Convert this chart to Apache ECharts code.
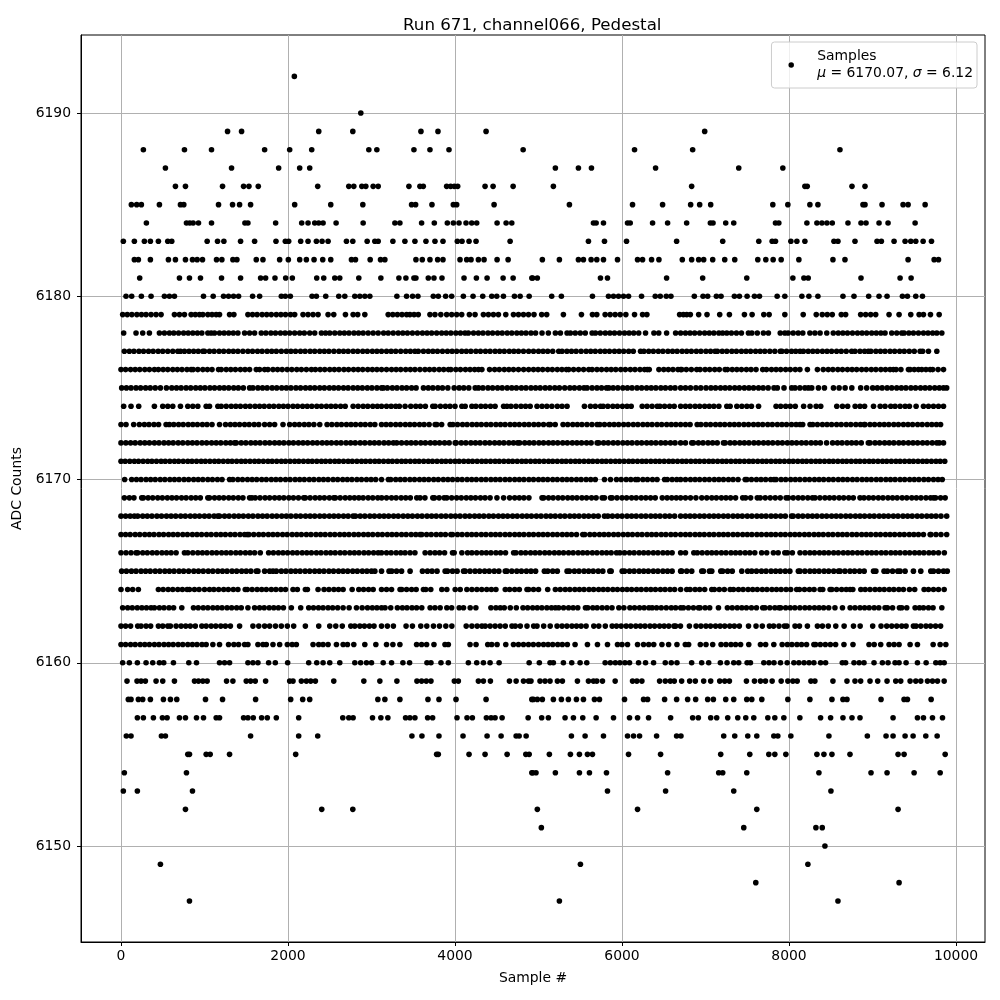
<!DOCTYPE html>
<html><head><meta charset="utf-8"><style>html,body{margin:0;padding:0;background:#fff}#c{width:1000px;height:1000px}</style>
<script src="https://cdn.jsdelivr.net/npm/echarts@6/dist/echarts.min.js"></script></head><body><div id="c"></div><script>
const chartTitle="Run 671, channel066, Pedestal";
const xName="Sample #";
const yName="ADC Counts";
const xTicks=[0,2000,4000,6000,8000,10000];
const yTicks=[6150,6160,6170,6180,6190];
const row6192=[2076];
const row6190=[2872];
const row6189=[1276,1444,2368,2776,3592,3796,4372,6990];
const row6188=[268,760,1084,1720,2020,2284,2968,3064,3508,3700,3928,4816,6150,6846,8610];
const row6187=[532,1324,1888,2140,2260,5202,5478,5634,6402,7398,7926];
const row6186=[652,772,1216,1468,1532,1644,2356,2728,2788,2884,2932,3020,3080,3448,3580,3620,3900,3948,3992,4032,4360,4456,4696,5178,6834,8190,8218,8754,8910];
const row6185=[124,188,244,460,712,752,1168,1336,1420,1552,2080,2512,2896,3480,3528,3724,3980,4020,4468,5370,6126,6486,6822,6930,7062,7806,7986,8250,8346,8886,8910,9114,9366,9426,9630];
const row6184=[304,784,824,864,928,1084,1484,1520,1852,2164,2240,2320,2368,2420,2576,2900,3280,3340,3600,3752,3908,3980,4048,4132,4200,4260,4504,4612,4680,5658,5690,5778,6066,6098,6366,6546,6774,7058,7090,7242,7338,7838,7878,8214,8334,8394,8454,8518,8706,8862,8922,9078,9186,9510];
const row6183=[28,160,280,352,448,560,608,1032,1156,1232,1432,1600,1856,1968,2008,2152,2240,2340,2408,2480,2700,2776,2948,3040,3080,3256,3400,3520,3652,3760,3856,4028,4084,4168,4252,4660,5598,5790,6054,6654,7206,7638,7798,7838,8022,8094,8190,8538,8586,8790,9054,9106,9258,9390,9458,9518,9606,9706];
const row6182=[160,208,352,568,652,772,856,912,976,1144,1208,1340,1388,1620,1700,1900,2004,2140,2220,2312,2416,2512,2760,2808,2984,3108,3160,3532,3608,3700,3792,3856,4060,4140,4192,4280,4348,4504,4636,5046,5250,5478,5538,5630,5698,5778,5946,6186,6246,6354,6442,6722,6834,6918,6978,7086,7230,7350,7626,7722,7810,7906,8118,8526,8670,9426,9738,9790];
const row6181=[224,700,820,952,1204,1432,1672,1732,1844,1972,2052,2344,2428,2560,2620,2848,3112,3328,3412,3508,3532,3680,3748,3844,4108,4256,4384,4576,4696,4920,4930,4986,5742,5826,6534,6966,7494,8046,8178,8230,8862,9330,9462];
const row6180=[60,128,244,360,520,580,640,988,1104,1228,1288,1348,1408,1576,1660,1920,1968,2028,2288,2340,2452,2608,2680,2800,2860,2920,2980,3304,3420,3492,3556,3740,3800,3888,3960,4100,4216,4332,4440,4500,4580,4712,4780,4888,5158,5274,5646,5838,5898,5958,6018,6078,6234,6398,6458,6530,6586,6866,6970,7026,7130,7186,7346,7406,7498,7586,7646,7858,7950,8154,8238,8346,8646,8778,8954,9078,9174,9358,9418,9518,9598];
const row6179=[20,75,130,190,245,300,360,420,480,640,700,760,840,890,940,980,1040,1090,1140,1180,1300,1352,1520,1575,1630,1690,1745,1800,1860,1915,1970,2030,2080,2180,2240,2300,2360,2480,2548,2688,2780,2835,2920,3200,3255,3310,3365,3420,3460,3510,3560,3700,3760,3830,3900,3960,4020,4080,4172,4240,4340,4400,4460,4520,4608,4700,4760,4820,4880,4946,5038,5098,5298,5514,5646,5698,5798,5858,5918,5978,6046,6150,6246,6298,6690,6735,6775,6818,6918,7018,7170,7286,7466,7558,7698,7762,7950,8170,8326,8398,8458,8518,8626,8678,8858,8918,8978,9038,9198,9318,9458,9558,9610,9694,9798];
const row6178=[32,180,260,340,460,520,580,632,690,750,805,860,915,968,1040,1080,1120,1180,1235,1290,1345,1400,1480,1540,1600,1680,1735,1795,1850,1910,1965,2020,2080,2140,2195,2260,2320,2400,2450,2500,2560,2620,2675,2730,2790,2845,2900,2960,3020,3080,3145,3200,3260,3320,3375,3430,3490,3550,3610,3665,3720,3780,3840,3895,3950,4010,4065,4120,4160,4222,4280,4335,4395,4450,4510,4565,4625,4680,4740,4795,4850,4910,4965,5042,5118,5202,5262,5342,5382,5440,5500,5560,5642,5682,5740,5800,5855,5910,5970,6030,6085,6140,6200,6282,6382,6440,6534,6642,6702,6760,6815,6870,6930,6990,7045,7100,7160,7205,7255,7310,7370,7430,7514,7555,7620,7693,7753,7895,7950,7990,8050,8110,8165,8250,8310,8372,8452,8530,8590,8645,8700,8760,8820,8875,8930,8990,9045,9100,9150,9230,9290,9350,9378,9435,9490,9550,9610,9665,9720,9770,9830];
const row6177=[40,100,155,215,270,330,385,445,500,560,620,680,712,760,815,870,925,980,1000,1060,1115,1175,1230,1290,1345,1400,1460,1520,1575,1635,1690,1750,1805,1860,1920,1980,2035,2090,2150,2205,2265,2320,2380,2435,2490,2550,2610,2665,2720,2780,2835,2895,2950,3010,3065,3120,3180,3235,3290,3350,3410,3465,3520,3560,3622,3680,3735,3790,3850,3910,3965,4020,4080,4135,4190,4250,4305,4365,4420,4480,4535,4590,4650,4705,4760,4820,4882,4940,5000,5055,5110,5170,5242,5282,5340,5395,5450,5510,5570,5625,5680,5740,5795,5850,5910,5965,6020,6080,6135,6222,6262,6320,6375,6435,6490,6550,6605,6660,6720,6775,6830,6890,6945,7005,7060,7115,7142,7200,7255,7315,7370,7430,7485,7540,7600,7655,7710,7770,7830,7895,7915,7970,8030,8080,8132,8172,8230,8285,8340,8400,8455,8510,8570,8625,8685,8750,8790,8850,8905,8950,8980,9040,9095,9150,9210,9265,9325,9380,9440,9500,9570,9600,9670,9770];
const row6176=[0,55,115,170,225,285,340,400,448,505,560,620,675,730,790,840,864,920,980,1035,1090,1168,1200,1260,1315,1370,1430,1485,1540,1620,1660,1720,1760,1820,1875,1930,1990,2045,2105,2160,2220,2280,2328,2385,2440,2500,2555,2610,2670,2725,2785,2840,2895,2955,3010,3065,3120,3180,3240,3295,3350,3410,3465,3520,3580,3640,3695,3750,3810,3865,3922,3950,4010,4065,4125,4180,4235,4282,4322,4414,4475,4530,4590,4645,4700,4760,4822,4882,4940,4995,5050,5110,5165,5225,5280,5334,5362,5420,5480,5540,5602,5642,5700,5755,5815,5870,5925,5985,6040,6100,6155,6215,6270,6302,6326,6442,6500,6555,6610,6670,6702,6715,6770,6830,6895,6935,6995,7050,7110,7165,7235,7262,7320,7375,7430,7490,7545,7605,7685,7730,7790,7845,7900,7960,8015,8075,8130,8220,8340,8410,8470,8525,8585,8640,8700,8755,8810,8870,8925,8985,9040,9100,9155,9210,9250,9282,9340,9430,9450,9500,9550,9590,9640,9690,9720,9785,9850];
const row6175=[8,65,120,180,235,295,350,410,472,544,608,665,720,780,835,895,950,1005,1065,1120,1180,1235,1290,1350,1405,1465,1540,1580,1640,1695,1750,1810,1865,1925,1980,2035,2095,2150,2210,2265,2320,2380,2435,2495,2550,2605,2665,2720,2780,2835,2890,2950,3005,3065,3120,3142,3190,3250,3305,3365,3420,3480,3534,3622,3680,3735,3795,3850,3914,3990,4050,4105,4165,4242,4282,4334,4395,4450,4510,4565,4625,4680,4735,4795,4850,4910,4965,5020,5080,5135,5195,5250,5314,5375,5430,5490,5545,5582,5642,5700,5755,5814,5842,5894,5950,6010,6065,6120,6180,6235,6295,6350,6405,6465,6520,6580,6635,6702,6760,6820,6885,6943,7006,7065,7120,7180,7235,7290,7350,7405,7465,7520,7575,7635,7690,7750,7820,7860,7940,8032,8072,8130,8190,8232,8272,8352,8424,8532,8600,8672,8752,8858,8930,9002,9058,9115,9175,9230,9290,9345,9400,9460,9515,9575,9630,9685,9745,9800,9850,9888];
const row6174=[32,120,212,400,500,560,620,712,800,860,920,1020,1060,1160,1200,1260,1320,1375,1430,1490,1545,1605,1660,1715,1775,1830,1890,1945,2000,2060,2115,2175,2230,2285,2345,2400,2460,2515,2570,2630,2685,2780,2840,2900,2955,3015,3070,3120,3180,3235,3290,3334,3402,3470,3530,3585,3645,3734,3762,3825,3885,3940,4000,4082,4122,4202,4250,4310,4365,4425,4480,4582,4622,4670,4730,4790,4845,4900,4982,5042,5100,5160,5225,5282,5342,5550,5622,5680,5742,5774,5830,5890,5945,6005,6060,6110,6242,6300,6360,6422,6454,6510,6570,6625,6702,6760,6815,6875,6930,6990,7045,7100,7160,7255,7295,7375,7435,7495,7550,7635,7845,7900,7960,8015,8075,8175,8252,8325,8380,8572,8640,8702,8792,8850,8905,9012,9092,9150,9218,9270,9330,9390,9442,9522,9610,9670,9730,9790,9850];
const row6173=[0,60,152,220,280,335,395,450,540,580,632,690,745,805,860,915,975,1030,1090,1180,1252,1310,1365,1420,1480,1535,1595,1650,1720,1780,1840,1940,2020,2080,2135,2195,2250,2310,2380,2468,2525,2585,2640,2700,2755,2810,2870,2925,2985,3040,3120,3175,3230,3290,3345,3405,3460,3515,3575,3630,3690,3762,3782,3840,3942,3974,4030,4090,4145,4205,4260,4315,4375,4430,4490,4545,4600,4660,4715,4770,4830,4885,4945,5000,5060,5122,5142,5200,5294,5350,5410,5465,5520,5580,5640,5702,5734,5790,5850,5905,5960,6020,6075,6135,6190,6250,6305,6360,6420,6475,6535,6590,6645,6702,6760,6815,6900,6945,7005,7060,7120,7175,7230,7290,7345,7400,7460,7515,7575,7630,7685,7745,7800,7860,7915,7970,8030,8085,8132,8164,8252,8284,8340,8400,8455,8510,8570,8625,8685,8740,8800,8855,8900,8910,8970,9025,9085,9140,9195,9255,9310,9370,9425,9480,9540,9595,9655,9710,9765,9815];
const row6172=[0,58,115,170,230,285,340,400,455,515,570,625,685,740,800,855,910,970,1025,1085,1140,1195,1255,1310,1360,1380,1440,1495,1555,1610,1665,1725,1780,1840,1895,1950,2010,2065,2125,2180,2235,2295,2350,2410,2465,2520,2580,2635,2695,2750,2805,2865,2920,2980,3035,3090,3150,3205,3262,3302,3360,3420,3475,3530,3590,3645,3705,3760,3815,3875,3930,4002,4014,4075,4130,4190,4245,4300,4360,4415,4475,4530,4585,4645,4700,4750,4774,4835,4890,4945,5005,5060,5120,5175,5230,5290,5345,5405,5460,5515,5575,5630,5702,5722,5780,5835,5895,5950,6010,6065,6120,6180,6235,6295,6350,6405,6465,6520,6580,6635,6702,6760,6835,6855,6915,6970,7030,7085,7140,7215,7235,7295,7350,7410,7465,7520,7580,7635,7695,7750,7805,7865,7920,7980,8035,8090,8150,8205,8265,8320,8375,8450,8522,8580,8635,8695,8750,8805,8865,8950,8970,9030,9085,9145,9200,9255,9315,9370,9430,9485,9540,9600,9655,9715,9770,9800,9850];
const row6171=[0,50,105,160,210,265,320,370,425,480,530,585,640,690,745,800,850,905,960,1010,1065,1120,1170,1225,1280,1330,1385,1440,1490,1545,1600,1650,1705,1760,1810,1865,1920,1970,2025,2080,2130,2185,2240,2290,2345,2400,2450,2505,2560,2610,2665,2720,2770,2825,2880,2930,2985,3040,3090,3145,3200,3250,3305,3360,3410,3465,3520,3570,3625,3680,3730,3785,3840,3890,3945,4000,4050,4105,4160,4210,4265,4320,4370,4425,4480,4530,4585,4640,4690,4745,4800,4850,4905,4960,5010,5065,5120,5170,5225,5280,5330,5385,5440,5490,5545,5600,5650,5705,5760,5810,5865,5920,5970,6025,6080,6130,6185,6240,6290,6345,6400,6450,6505,6560,6610,6665,6720,6770,6825,6880,6930,6985,7040,7090,7145,7200,7250,7305,7360,7410,7465,7520,7570,7625,7680,7730,7785,7840,7890,7945,8000,8050,8105,8160,8210,8265,8320,8370,8425,8480,8530,8585,8640,8690,8745,8800,8850,8905,8960,9010,9065,9120,9170,9225,9280,9330,9385,9440,9490,9545,9600,9650,9705,9760,9810,9865];
const row6170=[44,128,185,240,300,355,410,470,525,585,640,695,755,810,870,925,980,1040,1095,1155,1210,1300,1340,1400,1455,1515,1570,1625,1685,1740,1800,1855,1910,1970,2025,2085,2140,2195,2255,2310,2370,2425,2480,2540,2595,2655,2710,2765,2825,2880,2940,2995,3050,3120,3202,3230,3290,3345,3400,3460,3515,3575,3630,3685,3745,3800,3860,3915,3970,4030,4085,4145,4200,4255,4315,4370,4430,4485,4540,4600,4655,4715,4770,4825,4885,4940,5000,5055,5110,5170,5225,5285,5340,5395,5455,5510,5570,5625,5680,5790,5862,5934,5990,6050,6105,6162,6190,6250,6305,6365,6420,6510,6542,6600,6655,6702,6760,6820,6875,6930,6990,7045,7105,7160,7215,7275,7330,7390,7475,7495,7550,7610,7665,7720,7780,7820,7845,7905,7960,8020,8075,8130,8190,8245,8305,8360,8415,8475,8530,8590,8645,8700,8760,8815,8875,8930,8985,9045,9100,9160,9215,9270,9330,9385,9445,9500,9555,9615,9670,9730,9785,9835];
const row6169=[40,100,155,248,268,325,380,440,495,555,610,665,725,780,840,895,950,1040,1060,1120,1175,1230,1290,1345,1405,1460,1540,1568,1608,1665,1725,1780,1840,1895,1950,2010,2065,2125,2188,2208,2265,2325,2380,2435,2495,2548,2568,2625,2685,2740,2795,2848,2900,2960,3015,3075,3122,3180,3240,3295,3355,3410,3465,3542,3582,3640,3734,3754,3810,3870,3902,3960,4020,4075,4135,4190,4245,4305,4360,4420,4502,4582,4654,4715,4770,4825,4885,5042,5062,5120,5175,5235,5290,5350,5405,5460,5520,5575,5635,5690,5762,5790,5862,5882,5940,6000,6055,6115,6170,6230,6285,6342,6398,6482,6540,6595,6650,6702,6760,6820,6885,6955,7015,7075,7130,7190,7245,7300,7360,7445,7480,7540,7620,7655,7715,7775,7835,7895,7965,7992,8050,8110,8165,8225,8280,8312,8370,8430,8485,8540,8600,8655,8715,8770,8850,8898,8955,9010,9070,9125,9185,9240,9295,9355,9410,9470,9525,9580,9640,9695,9730,9755,9815,9870];
const row6168=[0,55,110,160,200,260,315,370,430,485,545,600,655,715,770,830,885,940,1000,1055,1115,1160,1180,1240,1295,1355,1410,1465,1525,1580,1640,1695,1750,1810,1865,1925,1980,2035,2095,2150,2210,2265,2320,2380,2435,2495,2550,2605,2665,2720,2780,2808,2865,2920,2980,3035,3095,3150,3205,3265,3320,3380,3435,3490,3550,3605,3665,3720,3775,3835,3890,3950,4005,4060,4120,4175,4235,4290,4345,4405,4460,4520,4575,4630,4690,4745,4805,4860,4915,4975,5030,5090,5145,5200,5260,5315,5375,5430,5485,5545,5600,5660,5715,5790,5830,5885,5945,6000,6060,6115,6170,6230,6285,6345,6400,6455,6515,6570,6630,6702,6760,6815,6870,6930,6985,7045,7100,7155,7215,7270,7330,7385,7440,7500,7555,7615,7670,7725,7785,7840,7900,7955,8030,8050,8110,8165,8225,8280,8335,8395,8450,8510,8565,8620,8680,8735,8795,8850,8905,8965,9020,9080,9135,9190,9250,9305,9365,9420,9475,9535,9590,9650,9705,9760,9820,9888];
const row6167=[0,55,110,170,225,285,340,395,455,510,570,625,680,740,795,855,910,965,1025,1080,1140,1195,1250,1310,1365,1425,1480,1512,1532,1590,1650,1705,1765,1820,1875,1935,1990,2050,2105,2160,2220,2275,2335,2390,2445,2505,2560,2620,2675,2730,2790,2845,2905,2960,3015,3075,3130,3190,3245,3300,3360,3415,3475,3530,3582,3602,3660,3715,3775,3830,3885,3950,3970,4030,4085,4145,4200,4255,4315,4370,4430,4485,4540,4600,4655,4715,4770,4825,4885,4940,5000,5055,5110,5170,5225,5285,5340,5395,5455,5530,5554,5615,5670,5730,5785,5840,5900,5955,6015,6070,6125,6185,6240,6300,6355,6410,6470,6525,6585,6640,6702,6760,6815,6875,6930,6985,7045,7100,7160,7215,7270,7330,7385,7445,7500,7555,7615,7670,7730,7785,7840,7900,7955,8015,8070,8125,8185,8240,8300,8355,8410,8470,8525,8585,8640,8695,8755,8810,8870,8925,8980,9040,9095,9155,9210,9265,9325,9380,9440,9495,9550,9610,9690,9700,9760,9820,9888];
const row6166=[0,60,120,180,200,260,315,375,430,490,545,600,660,760,800,860,920,975,1030,1090,1145,1205,1260,1315,1375,1430,1490,1545,1600,1668,1768,1825,1885,1940,1995,2055,2110,2170,2225,2280,2340,2395,2455,2510,2565,2625,2680,2740,2795,2850,2910,2965,3025,3080,3120,3180,3235,3295,3350,3402,3462,3520,3642,3702,3760,3815,3875,3970,3990,4082,4150,4202,4260,4320,4375,4430,4490,4545,4605,4702,4730,4790,4845,4905,4960,5015,5075,5130,5190,5245,5300,5360,5415,5475,5530,5585,5645,5700,5760,5815,5870,5934,5974,6030,6090,6145,6205,6260,6315,6375,6430,6490,6545,6600,6702,6760,6860,6902,6960,7020,7075,7130,7190,7245,7305,7360,7415,7475,7530,7590,7672,7733,7813,7870,7950,7980,8040,8132,8192,8250,8305,8365,8420,8475,8535,8590,8650,8705,8760,8820,8875,8935,8990,9045,9105,9160,9220,9275,9330,9390,9445,9505,9560,9615,9675,9730,9790,9860];
const row6165=[8,65,125,180,240,295,350,410,465,525,580,635,695,750,810,872,928,985,1045,1100,1160,1215,1270,1330,1385,1445,1500,1555,1620,1640,1720,1780,1820,1860,1920,1975,2035,2090,2145,2205,2260,2320,2375,2430,2490,2545,2605,2660,2715,2775,2830,2890,2945,3000,3040,3120,3210,3242,3300,3360,3462,3610,3670,3725,3785,3882,3910,3970,4025,4102,4122,4180,4240,4295,4355,4410,4470,4525,4602,4622,4680,4740,4795,4855,4910,4965,5070,5110,5170,5225,5342,5370,5430,5485,5545,5600,5655,5715,5770,5854,5870,6002,6030,6090,6145,6205,6260,6315,6375,6430,6490,6545,6600,6702,6715,6775,6835,6955,6975,7047,7075,7183,7205,7265,7320,7434,7505,7553,7610,7670,7725,7785,7840,7895,7955,8010,8112,8132,8190,8250,8305,8360,8420,8475,8535,8592,8612,8670,8730,8785,8845,8900,9012,9040,9138,9178,9240,9302,9330,9390,9490,9578,9698,9730,9790,9850,9895];
const row6164=[0,80,140,208,448,505,565,620,680,735,792,820,880,935,1000,1060,1112,1170,1230,1285,1345,1400,1488,1512,1570,1630,1685,1740,1800,1855,1915,1970,2060,2112,2208,2232,2360,2432,2490,2550,2605,2660,2768,2848,2905,2965,3020,3120,3180,3240,3342,3362,3420,3480,3535,3622,3650,3710,3842,3902,4002,4062,4142,4202,4262,4320,4380,4435,4490,4602,4654,4715,4770,4862,4882,4940,5000,5110,5202,5260,5320,5375,5435,5490,5545,5605,5660,5720,5775,5830,5890,5945,6005,6060,6115,6175,6230,6290,6345,6400,6460,6515,6575,6630,6702,6775,6815,6875,6930,6990,7075,7105,7165,7225,7295,7335,7395,7450,7510,7565,7620,7680,7735,7795,7850,7905,7965,8020,8092,8125,8185,8245,8300,8372,8404,8492,8512,8570,8630,8685,8732,8764,8860,8912,8970,9030,9085,9140,9200,9255,9315,9370,9442,9505,9618,9670,9730,9790,9858];
const row6163=[20,80,135,195,250,305,360,400,460,515,575,630,728,868,925,985,1040,1100,1155,1210,1270,1325,1385,1440,1520,1600,1660,1715,1775,1830,1885,1945,2040,2152,2248,2305,2365,2420,2480,2535,2595,2660,2732,2820,2888,2952,3010,3065,3120,3162,3230,3310,3370,3425,3485,3540,3602,3702,3760,3822,3902,3960,4050,4102,4182,4250,4430,4490,4542,4590,4662,4734,4814,4870,4930,4985,5040,5100,5155,5202,5242,5300,5360,5415,5470,5562,5590,5650,5702,5762,5820,5880,5962,6022,6094,6150,6210,6265,6322,6362,6414,6470,6530,6590,6642,6702,6735,6795,6855,6915,6935,6995,7050,7155,7262,7320,7380,7435,7490,7550,7610,7685,7712,7770,7830,7880,7900,7960,8015,8070,8130,8190,8245,8305,8360,8415,8475,8550,8640,8732,8790,8850,8905,8960,9020,9075,9150,9178,9240,9322,9350,9410,9510,9562,9610,9670,9725,9830];
const row6162=[0,55,115,200,240,300,355,448,500,560,592,660,720,775,830,890,968,1020,1080,1135,1195,1250,1310,1420,1580,1650,1720,1780,1850,1920,1992,2068,2208,2368,2500,2572,2650,2752,2800,2860,2915,2975,3030,3120,3190,3262,3414,3490,3590,3662,3742,3814,3890,3962,4134,4202,4265,4322,4362,4420,4480,4540,4602,4682,4722,4782,4862,4942,4982,5062,5140,5222,5282,5340,5400,5455,5510,5570,5662,5722,5800,5882,5934,5990,6050,6105,6165,6220,6275,6335,6390,6450,6505,6560,6622,6642,6700,6807,6887,6945,7005,7060,7120,7175,7230,7290,7345,7405,7515,7605,7680,7765,7815,7880,7945,7975,8072,8125,8220,8340,8400,8470,8560,8660,8772,8852,9002,9102,9170,9230,9290,9350,9402,9490,9522,9578,9640,9695,9755,9815];
const row6161=[0,55,115,170,230,285,340,400,455,515,570,625,685,740,800,855,910,970,1020,1100,1180,1288,1352,1408,1480,1520,1640,1700,1740,1820,1900,1992,2050,2100,2300,2368,2420,2480,2580,2660,2712,2788,2920,3052,3180,3256,3340,3540,3600,3660,3748,3880,3920,4180,4252,4392,4440,4504,4608,4700,4760,4820,4880,4938,5000,5060,5115,5170,5230,5285,5345,5438,5586,5706,5826,5946,6000,6066,6186,6258,6320,6380,6478,6558,6658,6758,6798,6938,7006,7086,7186,7245,7305,7360,7420,7518,7658,7720,7818,7918,7980,8035,8095,8150,8210,8298,8318,8375,8435,8495,8558,8658,8766,8958,9020,9098,9198,9258,9318,9450,9538,9726,9810,9878];
const row6160=[20,100,196,300,380,460,512,628,812,904,1180,1240,1300,1520,1580,1640,1768,1848,1996,2248,2344,2420,2500,2620,2800,2870,2940,3000,3140,3240,3376,3456,3664,3712,3832,3920,4160,4260,4340,4420,4528,4888,5010,5138,5178,5298,5398,5498,5578,5798,5860,5920,5975,6035,6090,6198,6282,6378,6518,6590,6658,6834,6954,7038,7178,7258,7338,7398,7498,7538,7698,7760,7820,7898,7978,8058,8118,8180,8240,8298,8378,8438,8638,8678,8778,8840,8898,9018,9118,9186,9270,9318,9402,9538,9642,9758,9810,9858];
const row6159=[72,192,240,292,420,500,640,880,928,980,1032,1264,1340,1500,1552,1608,1732,2020,2060,2160,2220,2272,2328,2548,2908,3100,3304,3544,3600,3656,3712,3992,4040,4280,4340,4424,4652,4732,4820,4880,4910,5018,5078,5138,5226,5286,5466,5598,5658,5698,5766,5918,6126,6178,6238,6450,6518,6578,6626,6714,6810,6878,6978,7062,7170,7230,7286,7490,7586,7658,7718,7798,7906,7986,8046,8098,8262,8310,8526,8694,8790,8858,8970,9062,9174,9278,9338,9450,9518,9578,9658,9718,9778,9858];
const row6158=[88,120,208,260,352,508,592,668,1012,1216,1612,2032,2176,2260,3076,3160,3340,3676,3808,4012,4372,4920,4938,4986,5046,5178,5274,5358,5454,5538,5670,5730,6030,6258,6306,6510,6654,6786,6882,7026,7094,7242,7338,7494,7554,7674,7986,8250,8514,8646,8694,9102,9378,9418,9702];
const row6157=[196,268,388,496,552,700,772,904,988,1140,1180,1468,1520,1584,1684,1752,1860,2128,2656,2728,2780,3012,3112,3196,3408,3460,3520,3672,3732,4024,4144,4208,4376,4432,4480,4564,4876,5038,5118,5318,5418,5530,5690,5898,6090,6186,6318,6582,6846,6914,7062,7134,7266,7386,7482,7578,7746,7830,7938,8130,8378,8498,8646,8754,8850,9246,9538,9610,9718,9838];
const row6156=[64,120,484,532,1552,2128,2356,3484,3604,3808,4096,4384,4552,4732,4768,4852,5394,5558,5778,6066,6138,6210,6414,6654,6706,7218,7350,7506,7614,7818,7866,8022,8478,8938,9162,9246,9390,9486,9638,9774];
const row6155=[800,820,1020,1068,1300,2092,3780,3800,4168,4360,4624,4848,4888,5130,5382,5490,5586,5646,6078,6462,7182,7530,7758,7830,7962,8334,8418,8514,8730,9306,9378,9870];
const row6154=[40,784,4920,4930,4970,5202,5490,5610,5814,6546,7158,7206,7494,8358,8982,9174,9498,9810];
const row6153=[28,196,856,5826,6522,7338,8502];
const row6152=[772,2404,2776,4986,6186,7614,9306];
const row6151=[5034,7458,8322,8398];
const row6150=[8430];
const row6149=[472,5502,8226];
const row6148=[7602,9318];
const row6147=[820,5250,8586];
const levels=[6192,6190,6189,6188,6187,6186,6185,6184,6183,6182,6181,6180,6179,6178,6177,6176,6175,6174,6173,6172,6171,6170,6169,6168,6167,6166,6165,6164,6163,6162,6161,6160,6159,6158,6157,6156,6155,6154,6153,6152,6151,6150,6149,6148,6147];
const rows=[row6192,row6190,row6189,row6188,row6187,row6186,row6185,row6184,row6183,row6182,row6181,row6180,row6179,row6178,row6177,row6176,row6175,row6174,row6173,row6172,row6171,row6170,row6169,row6168,row6167,row6166,row6165,row6164,row6163,row6162,row6161,row6160,row6159,row6158,row6157,row6156,row6155,row6154,row6153,row6152,row6151,row6150,row6149,row6148,row6147];
const pts=[];rows.forEach((r,i)=>r.forEach(x=>pts.push([x,levels[i]])));
const font="DejaVu Sans";
const chart=echarts.init(document.getElementById('c'),null,{renderer:'canvas'});
chart.setOption({
 animation:false,backgroundColor:'#fff',
 title:{text:chartTitle,left:398,top:12,textStyle:{fontFamily:font,fontSize:16.67,fontWeight:'normal',color:'#000'}},
 legend:{show:true,right:23,top:42,orient:'vertical',icon:'circle',itemWidth:42,itemHeight:5.5,padding:[6,4,6,17],backgroundColor:'rgba(255,255,255,0.8)',borderColor:'#ccc',borderWidth:1,borderRadius:3,
  formatter:()=>'Samples\n{i|μ} = 6170.07, {i|σ} = 6.12',
  textStyle:{fontFamily:font,fontSize:13.9,color:'#000',lineHeight:17,rich:{i:{fontStyle:'italic',fontFamily:font,fontSize:13.9,color:'#000'}}}},
 grid:{left:81,right:15,top:35,bottom:58,show:true,borderColor:'#000',borderWidth:1,backgroundColor:'#fff'},
 xAxis:{type:'value',min:-479,max:10347,interval:2000,name:xName,nameLocation:'middle',nameGap:29,nameTextStyle:{fontFamily:font,fontSize:13.9,color:'#000'},
  axisLine:{show:true,onZero:false,lineStyle:{color:'#000'}},axisTick:{show:true,length:4,lineStyle:{color:'#000'},customValues:xTicks},
  axisLabel:{fontFamily:font,fontSize:13.9,color:'#000',margin:7,customValues:xTicks,formatter:v=>String(v)},
  splitLine:{show:true,lineStyle:{color:'#b0b0b0',width:1}}},
 yAxis:{type:'value',min:6144.76,max:6194.26,interval:10,name:yName,nameLocation:'middle',nameGap:46,nameTextStyle:{fontFamily:font,fontSize:13.9,color:'#000'},
  axisLine:{show:true,onZero:false,lineStyle:{color:'#000'}},axisTick:{show:true,length:4,lineStyle:{color:'#000'},customValues:yTicks},
  axisLabel:{fontFamily:font,fontSize:13.9,color:'#000',margin:10,customValues:yTicks,formatter:v=>String(v)},
  splitLine:{show:true,lineStyle:{color:'#b0b0b0',width:1}}},
 series:[{type:'scatter',name:'Samples',data:pts,symbol:'circle',symbolSize:5.6,itemStyle:{color:'#000',opacity:1},silent:true,large:false}]
});
</script></body></html>
